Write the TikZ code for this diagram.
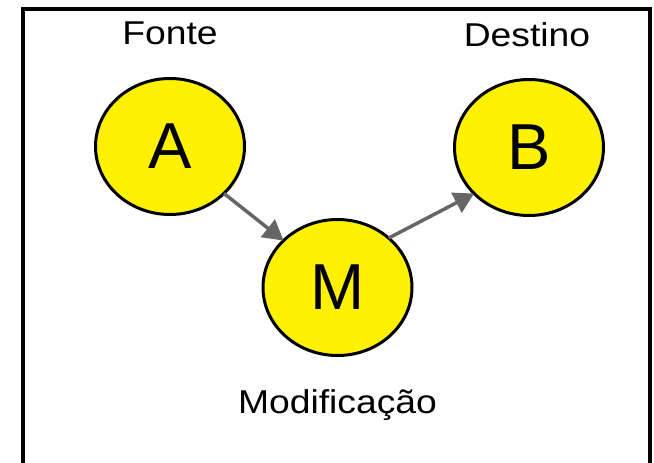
\documentclass[tikz,border=0pt]{standalone}
\usepackage{fontspec}
\setmainfont{Liberation Sans}
\usetikzlibrary{shapes.geometric,arrows.meta}
% captions are set slightly widened
\newcommand{\widecap}[1]{\scalebox{1.13}[1]{#1}}
\begin{document}
\begin{tikzpicture}[x=1pt,y=-1pt,
  vertex/.style={ellipse,draw=black,line width=3pt,fill=yellow,
    minimum width=149pt,minimum height=136pt,inner sep=0pt,outer sep=0pt,
    font=\fontsize{65}{70}\selectfont},
  caption/.style={anchor=base,inner sep=0pt,font=\fontsize{33}{38}\selectfont},
  link/.style={draw={rgb,255:red,102;green,102;blue,102},line width=3.5pt,
    -{Triangle[length=20pt,width=22pt]}}]
  \useasboundingbox (0,0) rectangle (654,463);
  % frame
  \draw[line width=4pt] (23,9) rectangle (650,480);
  % vertices
  \node[vertex] (A) at (170,146.5) {A};
  \node[vertex] (B) at (529,147.5) {B};
  \node[vertex] (M) at (337.5,287.5) {M};
  % captions
  \node[caption] (fonte) at (170,44) {\widecap{Fonte}};
  \node[caption] (destino) at (527,46.5) {\widecap{Destino}};
  \node[caption] (modif) at (337.5,413) {\widecap{Modificação}};
  % connectors
  \draw[link] (A.-41) -- (M.139);
  \draw[link] (M.44) -- (B.220);
\end{tikzpicture}
\end{document}
